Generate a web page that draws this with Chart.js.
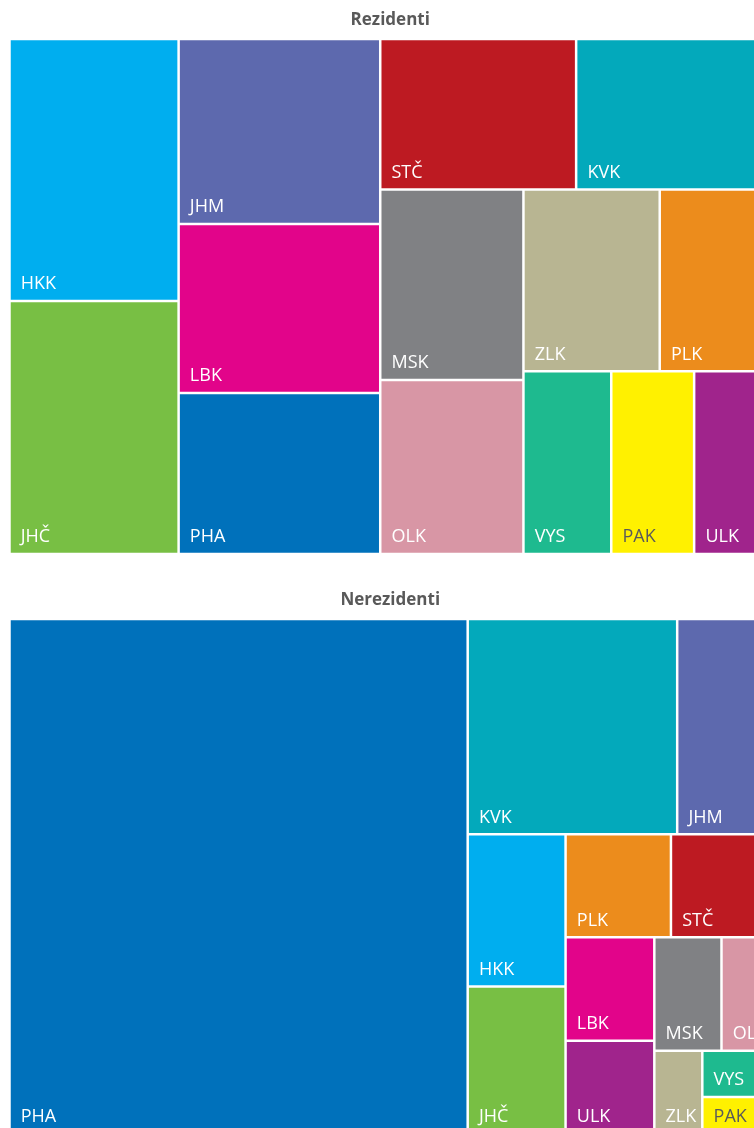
<!DOCTYPE html>
<html lang="cs">
<head>
<meta charset="utf-8">
<title>Rezidenti a nerezidenti podle krajů</title>
<script src="https://cdn.jsdelivr.net/npm/chart.js@4"></script>
<style>
    html, body { margin: 0; padding: 0; background: #fff; overflow: hidden; }
    #platno { position: relative; width: 781px; height: 1140px; }
    #platno canvas { position: absolute; left: 0; }
</style>
</head>
<body>
<div id="platno">
    <canvas id="grafRezidenti" width="781" height="560" style="top:0"></canvas>
    <canvas id="grafNerezidenti" width="781" height="560" style="top:580px"></canvas>
</div>
<script>
// kraje a jejich podíl na přenocováních (%)
const kraje = ['PHA', 'STČ', 'JHČ', 'PLK', 'KVK', 'ULK', 'LBK', 'HKK', 'PAK', 'VYS', 'JHM', 'OLK', 'ZLK', 'MSK'];
const rezidenti = [8.28, 7.52, 10.91, 5.16, 7.48, 3.58, 8.69, 11.30, 3.86, 4.09, 9.51, 6.35, 6.32, 6.96];
const nerezidenti = [60.17, 2.63, 3.68, 2.77, 11.50, 2.11, 2.34, 3.80, 0.65, 0.81, 5.15, 1.43, 1.02, 1.94];

const barvyKraju = {
    PHA: '#0071BB', STČ: '#BD1A22', JHČ: '#78BF44', PLK: '#EC8C1C', KVK: '#03A9BB',
    ULK: '#A0248C', LBK: '#E2048A', HKK: '#00AEEF', PAK: '#FFF100', VYS: '#1EBA8F',
    JHM: '#5D69AE', OLK: '#D896A5', ZLK: '#B8B592', MSK: '#808184'
};
const tmavePopisky = ['PAK'];

// rozlozeni se pocita v plose o 16 % sirsi, pak se zuzi na plochu grafu
const NATAZENI_X = 1.16;

function rozlozeni(hodnoty, sirka, vyska) {
    const w0 = sirka * NATAZENI_X, h0 = vyska;
    const soucet = hodnoty.reduce((a, b) => a + b, 0);
    const poradi = hodnoty.map((v, i) => i).sort((a, b) => hodnoty[b] - hodnoty[a]);
    const plochy = poradi.map(i => hodnoty[i] * w0 * h0 / soucet);
    const nejhorsi = (rada, strana) => {
        const s = rada.reduce((a, b) => a + b, 0);
        const mx = Math.max(...rada), mn = Math.min(...rada);
        return Math.max(strana * strana * mx / (s * s), (s * s) / (strana * strana * mn));
    };
    const vysledek = [];
    let x = 0, y = 0, w = w0, h = h0, k = 0;
    while (k < plochy.length) {
        const strana = Math.min(w, h);
        const rada = [plochy[k]];
        let j = k + 1;
        while (j < plochy.length && nejhorsi(rada.concat(plochy[j]), strana) <= nejhorsi(rada, strana)) {
            rada.push(plochy[j]);
            j++;
        }
        const s = rada.reduce((a, b) => a + b, 0);
        if (w >= h) {
            const tl = s / h;
            let yy = y;
            rada.forEach((p, n) => {
                const d = p / tl;
                vysledek[poradi[k + n]] = { x0: x, x1: x + tl, y0: yy, y1: yy + d };
                yy += d;
            });
            x += tl; w -= tl;
        } else {
            const tl = s / w;
            let xx = x;
            rada.forEach((p, n) => {
                const d = p / tl;
                vysledek[poradi[k + n]] = { x0: xx, x1: xx + d, y0: y, y1: y + tl };
                xx += d;
            });
            y += tl; h -= tl;
        }
        k = j;
    }
    // na podil 0-1 pro osy x a y
    return vysledek.map(r => ({ x0: r.x0 / w0, x1: r.x1 / w0, y0: r.y0 / h0, y1: r.y1 / h0 }));
}

class TreemapController extends Chart.DatasetController {
    update(mode) {
        const meta = this._cachedMeta;
        this.updateElements(meta.data, 0, meta.data.length, mode);
    }

    updateElements(prvky, start, count, mode) {
        const meta = this._cachedMeta;
        const oblast = this.chart.chartArea;
        const sirka = oblast ? oblast.right - oblast.left : 1;
        const vyska = oblast ? oblast.bottom - oblast.top : 1;
        const obdelniky = rozlozeni(this.getDataset().data, sirka || 1, vyska || 1);
        const osaX = meta.xScale, osaY = meta.yScale;

        for (let i = start; i < start + count; i++) {
            const r = obdelniky[i];
            const vlevo = osaX.getPixelForValue(r.x0);
            const vpravo = osaX.getPixelForValue(r.x1);
            const nahore = osaY.getPixelForValue(r.y0);
            const dole = osaY.getPixelForValue(r.y1);
            this.updateElement(prvky[i], i, {
                x: (vlevo + vpravo) / 2,
                y: nahore,
                base: dole,
                width: vpravo - vlevo,
                height: dole - nahore,
                horizontal: false,
                borderSkipped: {},
                inflateAmount: 0,
                enableBorderRadius: false,
                options: this.resolveDataElementOptions(i, mode)
            }, mode);
        }
    }

    draw() {
        super.draw();
        const ctx = this.chart.ctx;
        const ds = this.getDataset();
        const okraj = ds.borderWidth;
        ctx.save();
        ctx.font = '18px "Open Sans"';
        ctx.textAlign = 'left';
        ctx.textBaseline = 'alphabetic';
        this._cachedMeta.data.forEach((prvek, i) => {
            const { x, base, width } = prvek.getProps(['x', 'base', 'width']);
            const nazev = ds.popisky[i];
            ctx.fillStyle = tmavePopisky.includes(nazev) ? '#5a5a5a' : '#ffffff';
            ctx.fillText(nazev, x - width / 2 + okraj + 10, base - okraj - 10.4);
        });
        ctx.restore();
    }
}
TreemapController.id = 'treemap';
TreemapController.defaults = {
    datasetElementType: false,
    dataElementType: 'bar'
};
Chart.register(TreemapController);

function vykresliGraf(idPlatna, nadpis, hodnoty) {
    const ctx = document.getElementById(idPlatna).getContext('2d');
    new Chart(ctx, {
        type: 'treemap',
        data: {
            datasets: [{
                data: hodnoty,
                popisky: kraje,
                backgroundColor: kraje.map(k => barvyKraju[k]),
                borderColor: '#ffffff',
                borderWidth: 1.25
            }]
        },
        options: {
            responsive: false,
            animation: false,
            events: [],
            layout: {
                padding: { left: 9.5, right: 10, top: 0, bottom: 6 }
            },
            scales: {
                x: { type: 'linear', min: 0, max: 1, display: false },
                y: { type: 'linear', min: 0, max: 1, reverse: true, display: false }
            },
            plugins: {
                legend: { display: false },
                tooltip: { enabled: false },
                title: {
                    display: true,
                    text: nadpis,
                    color: '#595959',
                    font: { family: '"Open Sans"', size: 17, weight: 'bold' },
                    padding: { top: 10, bottom: 8.6 }
                }
            }
        }
    });
}

vykresliGraf('grafRezidenti', 'Rezidenti', rezidenti);
vykresliGraf('grafNerezidenti', 'Nerezidenti', nerezidenti);
</script>
</body>
</html>
